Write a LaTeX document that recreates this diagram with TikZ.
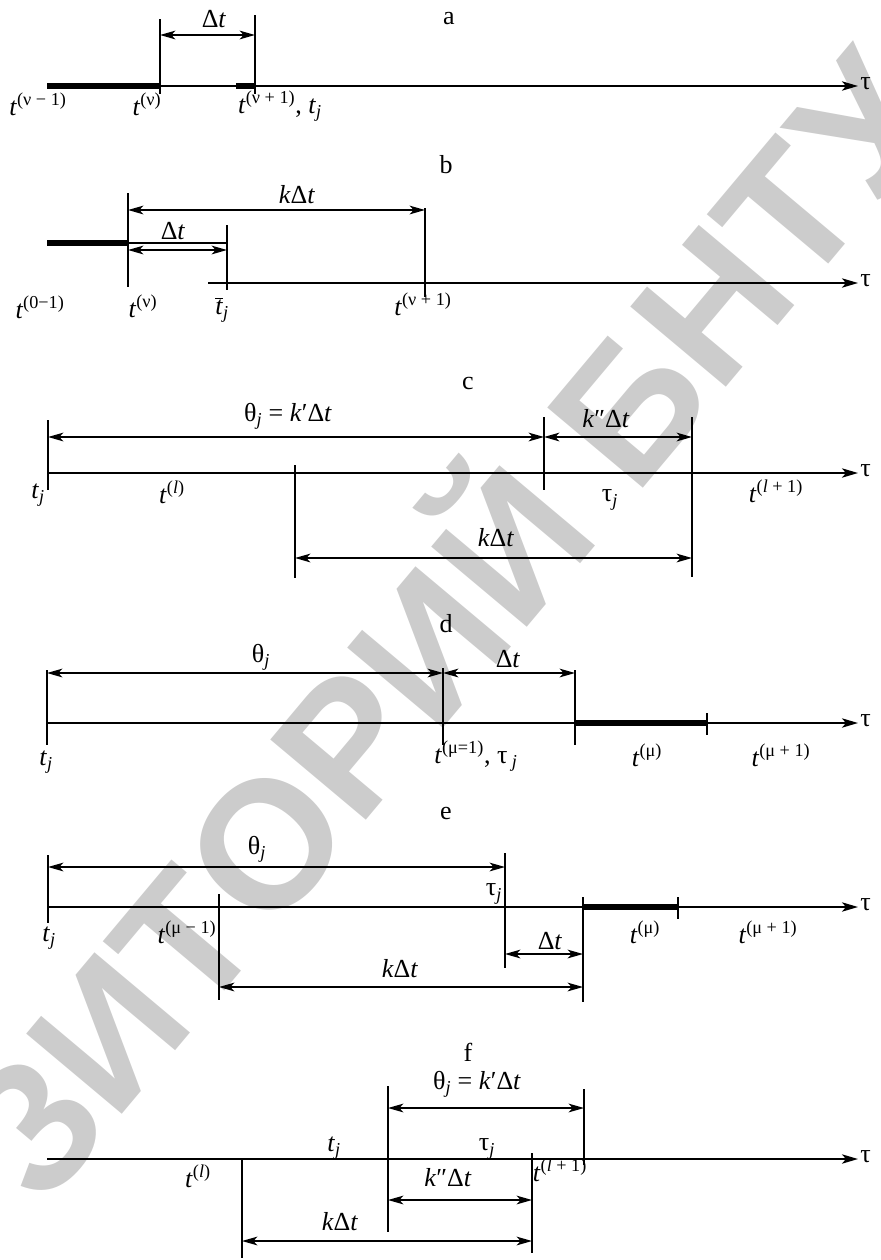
\documentclass[tikz,border=0pt]{standalone}
\usepackage{fontspec}
\setmainfont{Liberation Serif}
\newfontfamily\wmfont{Liberation Sans}
\usetikzlibrary{arrows.meta}
\tikzset{
  ax/.style={line width=1.5pt, -{Stealth[length=12pt,width=7pt,inset=3pt]}},
  dim/.style={line width=1.5pt, {Stealth[length=11.5pt,width=6.5pt,inset=3pt]}-{Stealth[length=11.5pt,width=6.5pt,inset=3pt]}},
  vl/.style={line width=1.4pt},
  heavy/.style={line width=4pt},
  thinl/.style={line width=0.8pt},
  lab/.style={font=\fontsize{19.5}{23}\selectfont, inner sep=0pt},
  wm/.style={font=\wmfont\bfseries\fontsize{136}{136}\selectfont, text=black!20,
    inner sep=0pt, text height=97pt, text depth=0pt, rotate=50},
}
\newcommand{\ti}{\textit{t}}
\newcommand{\tj}{\textit{t}\textsubscript{\textit{j}}}
\newcommand{\tauj}{τ\textsubscript{\textit{j}}}
\newcommand{\thj}{θ\textsubscript{\textit{j}}}
\newcommand{\Dt}{Δ\textit{t}}
\begin{document}
\begin{tikzpicture}[x=0.75pt,y=-0.75pt]
\useasboundingbox (0,0) rectangle (881,1260);
% watermark
\node[wm] (w1) at (30,1125) {З};
\node[wm] (w2) at (107,1032) {И};
\node[wm] (w3) at (184,939) {Т};
\node[wm] (w4) at (265,843) {О};
\node[wm] (w5) at (348,742) {Р};
\node[wm] (w6) at (428,646) {И};
\node[wm] (w7) at (512,545) {Й};
\node[wm] (w8) at (628,406) {Б};
\node[wm] (w9) at (711,305) {Н};
\node[wm] (w10) at (788,213) {Т};
\node[wm] (w11) at (862,124) {У};

% ---------------- panel a
\coordinate (a0) at (47,86); \coordinate (a1) at (160,86);
\coordinate (a2) at (236,86); \coordinate (a3) at (255,86);
\coordinate (aE) at (858,86);
\draw[heavy] (a0) -- (a1);
\draw[thinl] (a1) -- (a2);
\draw[heavy] (a2) -- (a3);
\draw[ax] (a3) -- (aE);
\node[lab, anchor=west] (aTau) at (860,84) {τ};
\coordinate (av1t) at (160,19); \coordinate (av1b) at (160,94);
\coordinate (av2t) at (255,15); \coordinate (av2b) at (255,94);
\draw[vl] (av1t) -- (av1b);
\draw[vl] (av2t) -- (av2b);
\coordinate (ad1) at (160,35); \coordinate (ad2) at (255,35);
\draw[dim] (ad1) -- (ad2);
\node[lab] (aDt) at (214,19) {\Dt};
\node[lab] (aName) at (449,19) {a};
\node[lab] (aL1) at (38,104) {\ti\textsuperscript{(ν − 1)}};
\node[lab] (aL2) at (147,104) {\ti\textsuperscript{(ν)}};
\node[lab] (aL3) at (280,106) {\ti\textsuperscript{(ν + 1)}, \tj};

% ---------------- panel b
\node[lab] (bName) at (446,165) {b};
\coordinate (b0) at (47,243); \coordinate (b1) at (128,243); \coordinate (b2) at (227,243);
\draw[heavy] (b0) -- (b1);
\draw[thinl] (b1) -- (b2);
\coordinate (bv1t) at (128,193); \coordinate (bv1b) at (128,287);
\coordinate (bv2t) at (227,225); \coordinate (bv2b) at (227,290);
\coordinate (bv3t) at (425,208); \coordinate (bv3b) at (425,297);
\draw[vl] (bv1t) -- (bv1b);
\draw[vl] (bv2t) -- (bv2b);
\draw[vl] (bv3t) -- (bv3b);
\coordinate (bk1) at (128,210); \coordinate (bk2) at (425,210);
\draw[dim] (bk1) -- (bk2);
\coordinate (bd1) at (128,250); \coordinate (bd2) at (227,250);
\draw[dim] (bd1) -- (bd2);
\coordinate (bA0) at (208,283); \coordinate (bAE) at (858,283);
\draw[ax] (bA0) -- (bAE);
\node[lab, anchor=west] (bTau) at (860,281) {τ};
\node[lab] (bkDt) at (297,195) {\textit{k}\Dt};
\node[lab] (bDt) at (173,231) {\Dt};
\node[lab] (bL1) at (40,307) {\ti\textsuperscript{(0−1)}};
\node[lab] (bL2) at (143,306) {\ti\textsuperscript{(ν)}};
\node[lab] (bL3) at (222,310) {$\overline{\mbox{\ti}}$\textsubscript{\textit{j}}};
\node[lab] (bL4) at (423,304) {\ti\textsuperscript{(ν + 1)}};

% ---------------- panel c
\node[lab] (cName) at (468,383) {c};
\coordinate (cv1t) at (48,420); \coordinate (cv1b) at (48,490);
\coordinate (cv2t) at (544,417); \coordinate (cv2b) at (544,490);
\coordinate (cv3t) at (692,417); \coordinate (cv3b) at (692,577);
\coordinate (cv4t) at (295,465); \coordinate (cv4b) at (295,578);
\draw[vl] (cv1t) -- (cv1b);
\draw[vl] (cv2t) -- (cv2b);
\draw[vl] (cv3t) -- (cv3b);
\draw[vl] (cv4t) -- (cv4b);
\coordinate (cd1) at (48,437); \coordinate (cd2) at (544,437); \coordinate (cd3) at (692,437);
\draw[dim] (cd1) -- (cd2);
\draw[dim] (cd2) -- (cd3);
\coordinate (ck1) at (295,558); \coordinate (ck2) at (692,558);
\draw[dim] (ck1) -- (ck2);
\coordinate (cA0) at (48,473); \coordinate (cAE) at (858,473);
\draw[ax] (cA0) -- (cAE);
\node[lab, anchor=west] (cTau) at (860,471) {τ};
\node[lab] (cTh) at (288,416) {\thj{} = \textit{k}′\Dt};
\node[lab] (ckk) at (606,419) {\textit{k}″\Dt};
\node[lab] (ck) at (496,538) {\textit{k}\Dt};
\node[lab] (cL1) at (38,495) {\tj};
\node[lab] (cL2) at (172,492) {\ti\textsuperscript{(\textit{l})}};
\node[lab] (cL3) at (610,500) {\tauj};
\node[lab] (cL4) at (776,491) {\ti\textsuperscript{(\textit{l} + 1)}};

% ---------------- panel d
\node[lab] (dName) at (446,624) {d};
\coordinate (dd1) at (47,673); \coordinate (dd2) at (443,673); \coordinate (dd3) at (575,673);
\draw[dim] (dd1) -- (dd2);
\draw[dim] (dd2) -- (dd3);
\coordinate (dA0) at (47,723); \coordinate (dA1) at (575,723); \coordinate (dA2) at (707,723);
\coordinate (dAE) at (858,723);
\draw[ax] (dA0) -- (dAE);
\draw[heavy] (dA1) -- (dA2);
\coordinate (dtt) at (707,713); \coordinate (dtb) at (707,735);
\draw[vl] (dtt) -- (dtb);
\coordinate (dv1t) at (47,670); \coordinate (dv1b) at (47,745);
\coordinate (dv2t) at (443,668); \coordinate (dv2b) at (443,745);
\coordinate (dv3t) at (575,670); \coordinate (dv3b) at (575,745);
\draw[vl] (dv1t) -- (dv1b);
\draw[vl] (dv2t) -- (dv2b);
\draw[vl] (dv3t) -- (dv3b);
\node[lab, anchor=west] (dTau) at (860,721) {τ};
\node[lab] (dTh) at (261,657) {\thj};
\node[lab] (dDt) at (508,659) {\Dt};
\node[lab] (dL1) at (46,762) {\tj};
\node[lab] (dL2) at (476,756) {\ti\textsuperscript{(μ=1)}, τ\,\textsubscript{\textit{j}}};
\node[lab] (dL3) at (647,755) {\ti\textsuperscript{(μ)}};
\node[lab] (dL4) at (781,755) {\ti\textsuperscript{(μ + 1)}};

% ---------------- panel e
\node[lab] (eName) at (446,813) {e};
\coordinate (ed1) at (48,867); \coordinate (ed2) at (505,867);
\draw[dim] (ed1) -- (ed2);
\coordinate (ed3) at (505,954); \coordinate (ed4) at (583,954);
\draw[dim] (ed3) -- (ed4);
\coordinate (ek1) at (219,987); \coordinate (ek2) at (583,987);
\draw[dim] (ek1) -- (ek2);
\coordinate (eA0) at (48,907); \coordinate (eA1) at (583,907); \coordinate (eA2) at (678,907);
\coordinate (eAE) at (858,907);
\draw[ax] (eA0) -- (eAE);
\draw[heavy] (eA1) -- (eA2);
\coordinate (ett) at (678,897); \coordinate (etb) at (678,919);
\draw[vl] (ett) -- (etb);
\coordinate (ev1t) at (48,855); \coordinate (ev1b) at (48,923);
\coordinate (ev2t) at (505,853); \coordinate (ev2b) at (505,968);
\coordinate (ev3t) at (583,897); \coordinate (ev3b) at (583,1002);
\coordinate (ev4t) at (219,894); \coordinate (ev4b) at (219,1000);
\draw[vl] (ev1t) -- (ev1b);
\draw[vl] (ev2t) -- (ev2b);
\draw[vl] (ev3t) -- (ev3b);
\draw[vl] (ev4t) -- (ev4b);
\node[lab, anchor=west] (eTau) at (860,905) {τ};
\node[lab] (eTh) at (257,849) {\thj};
\node[lab] (eTj) at (494,894) {\tauj};
\node[lab] (eDt) at (550,941) {\Dt};
\node[lab] (ek) at (400,969) {\textit{k}\Dt};
\node[lab] (eL1) at (49,938) {\tj};
\node[lab] (eL2) at (187,932) {\ti\textsuperscript{(μ − 1)}};
\node[lab] (eL3) at (645,932) {\ti\textsuperscript{(μ)}};
\node[lab] (eL4) at (768,932) {\ti\textsuperscript{(μ + 1)}};

% ---------------- panel f
\node[lab] (fName) at (468,1052) {f};
\coordinate (fd1) at (388,1108); \coordinate (fd2) at (584,1108);
\draw[dim] (fd1) -- (fd2);
\coordinate (fd3) at (388,1200); \coordinate (fd4) at (532,1200);
\draw[dim] (fd3) -- (fd4);
\coordinate (fk1) at (242,1241); \coordinate (fk2) at (532,1241);
\draw[dim] (fk1) -- (fk2);
\coordinate (fA0) at (47,1159); \coordinate (fAE) at (858,1159);
\draw[ax] (fA0) -- (fAE);
\coordinate (fv1t) at (388,1086); \coordinate (fv1b) at (388,1232);
\coordinate (fv2t) at (584,1089); \coordinate (fv2b) at (584,1165);
\coordinate (fv3t) at (242,1159); \coordinate (fv3b) at (242,1258);
\coordinate (fv4t) at (532,1153); \coordinate (fv4b) at (532,1253);
\draw[vl] (fv1t) -- (fv1b);
\draw[vl] (fv2t) -- (fv2b);
\draw[vl] (fv3t) -- (fv3b);
\draw[vl] (fv4t) -- (fv4b);
\node[lab, anchor=west] (fTau) at (860,1157) {τ};
\node[lab] (fTh) at (477,1084) {\thj{} = \textit{k}′\Dt};
\node[lab] (fkk) at (448,1178) {\textit{k}″\Dt};
\node[lab] (fk) at (340,1222) {\textit{k}\Dt};
\node[lab] (fL1) at (334,1148) {\tj};
\node[lab] (fL2) at (198,1176) {\ti\textsuperscript{(\textit{l})}};
\node[lab] (fL3) at (487,1149) {\tauj};
\node[lab] (fL4) at (560,1170) {\ti\textsuperscript{(\textit{l} + 1)}};
\end{tikzpicture}
\end{document}
